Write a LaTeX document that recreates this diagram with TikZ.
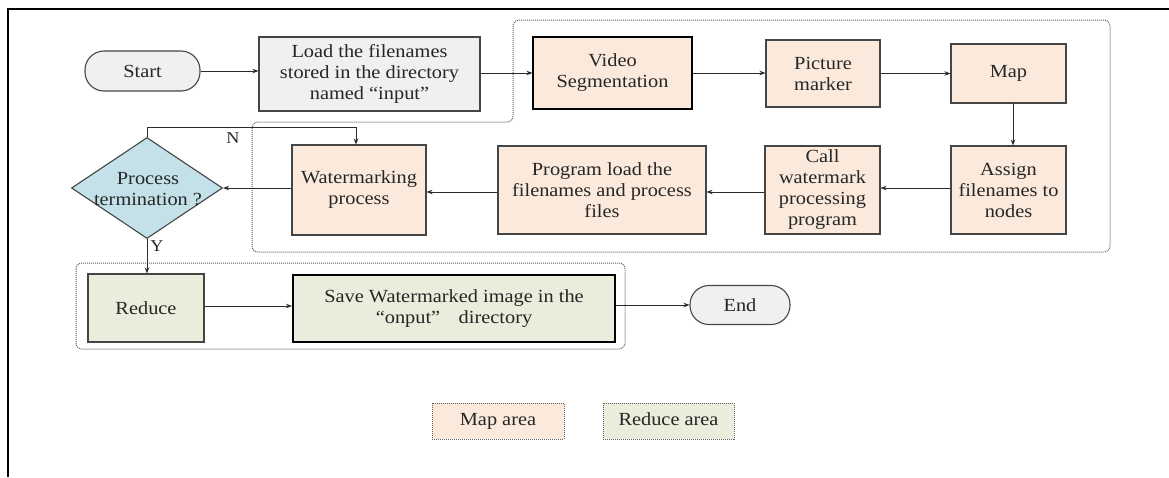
\documentclass[tikz,border=0pt]{standalone}
\usepackage{fontspec}
\setmainfont{Liberation Serif}[FakeStretch=1.1]
\usetikzlibrary{shapes.geometric,arrows.meta}
\definecolor{mapfill}{HTML}{FBEADC}
\definecolor{redfill}{HTML}{E9EDDB}
\definecolor{grayfill}{HTML}{F0F0F0}
\definecolor{diafill}{HTML}{C4E1E9}
\definecolor{boxdraw}{HTML}{454545}
\definecolor{txt}{HTML}{262626}
\definecolor{linecol}{HTML}{2A2A2A}
\definecolor{areacol}{HTML}{606060}
\newcommand\myfs{\fontsize{18.5}{21}\selectfont}
\newcommand\mysmallfs{\fontsize{16.5}{19}\selectfont}
\tikzset{
  base/.style={draw=boxdraw, line width=1.1pt, align=center, inner sep=0pt, text=txt, font=\myfs},
  mapbox/.style={base, fill=mapfill},
  redbox/.style={base, fill=redfill},
  graybox/.style={base, fill=grayfill},
  pill/.style={graybox, rounded corners=19pt},
  dia/.style={diamond, draw=boxdraw, line width=1.1pt, fill=diafill, inner sep=0pt, minimum width=151pt, minimum height=101pt},
  arr/.style={-{Stealth[length=6pt,width=4.5pt]}, line width=0.8pt, draw=linecol},
  area/.style={draw=areacol, densely dotted, line width=1pt, rounded corners=6pt},
  legendbox/.style={draw=areacol, densely dotted, line width=1pt, align=center, inner sep=0pt, text=txt, font=\myfs, minimum height=36pt, text height=13pt, text depth=4pt},
  lab/.style={text=txt, font=\mysmallfs, inner sep=0pt},
}
\begin{document}
\begin{tikzpicture}[x=1pt,y=-1pt]
\useasboundingbox (0,0) rectangle (1169,477);
% outer frame
\draw[line width=2.5pt, black] (8,477) -- (8,9) -- (1169,9);

% areas
\draw[area] (513,20) -- (1110,20) -- (1110,252) -- (252,252) -- (252,122) -- (513,122) -- cycle;
\draw[area] (76,263) rectangle (625,349);

% nodes
\node[pill, minimum width=115pt, minimum height=40pt] (start) at (142.5,71) {Start};
\node[graybox, minimum width=221pt, minimum height=74pt] (load) at (369.5,74) {Load the filenames\\stored in the directory\\named “input”};
\node[mapbox, draw=black, minimum width=159pt, minimum height=72pt] (video) at (612.5,73) {Video\\Segmentation};
\node[mapbox, minimum width=114pt, minimum height=67pt] (pic) at (823,73.5) {Picture\\marker};
\node[mapbox, minimum width=115pt, minimum height=59pt] (map) at (1008.5,73.5) {Map};
\node[mapbox, minimum width=115pt, minimum height=88pt] (assign) at (1008.5,190) {Assign\\filenames to\\nodes};
\node[mapbox, minimum width=115pt, minimum height=88pt] (call) at (822.5,190) {Call\\watermark\\processing\\program};
\node[mapbox, minimum width=208pt, minimum height=88pt] (prog) at (602,190) {Program load the\\filenames and process\\files};
\node[mapbox, minimum width=134pt, minimum height=90pt] (wm) at (359,190) {Watermarking\\process};
\node[dia] (dec) at (147,188) {};
\node[text=txt, font=\myfs, align=center, inner sep=0pt] (dectext) at (148,189) {Process\\termination ?};
\node[redbox, minimum width=116pt, minimum height=68pt] (reduce) at (146,308) {Reduce};
\node[redbox, draw=black, line width=2pt, minimum width=322pt, minimum height=67pt] (save) at (454,308.5) {Save Watermarked image in the\\“onput”\enspace\enspace directory};
\node[pill, minimum width=100pt, minimum height=39pt] (end) at (740,305) {End};

% legend
\node[legendbox, fill=mapfill, minimum width=132pt] (lmap) at (498,421) {Map area};
\node[legendbox, fill=redfill, minimum width=131pt] (lred) at (668.5,421) {Reduce area};

% connectors
\draw[arr] (start.east) -- (start.east -| load.west);
\draw[arr] (video.west -| load.east) -- (video.west);
\draw[arr] (video.east) -- (video.east -| pic.west);
\draw[arr] (pic.east) -- (pic.east -| map.west);
\draw[arr] ([xshift=4.5pt]map.south) -- ([xshift=4.5pt]assign.north);
\draw[arr] ([yshift=2pt]assign.west) -- ([yshift=2pt]call.east);
\draw[arr] ([yshift=-2pt]call.west) -- ([yshift=-2pt]prog.east);
\draw[arr] ([yshift=-2pt]prog.west) -- ([yshift=-2pt]wm.east);
\draw[arr] (dec.east -| wm.west) -- (dec.east);
\coordinate (nknee) at (147,127);
\draw[arr] (dec.north) -- (nknee) -| ([xshift=-3pt]wm.north);
\node[lab] (nlab) at (233,138) {N};
\draw[arr] (dec.south) -- (dec.south |- reduce.north);
\node[lab] (ylab) at (157,246) {Y};
\draw[arr] ([yshift=2pt]reduce.east) -- ([yshift=2pt]reduce.east -| save.west);
\draw[arr] (end.west -| save.east) -- (end.west);
\end{tikzpicture}
\end{document}
